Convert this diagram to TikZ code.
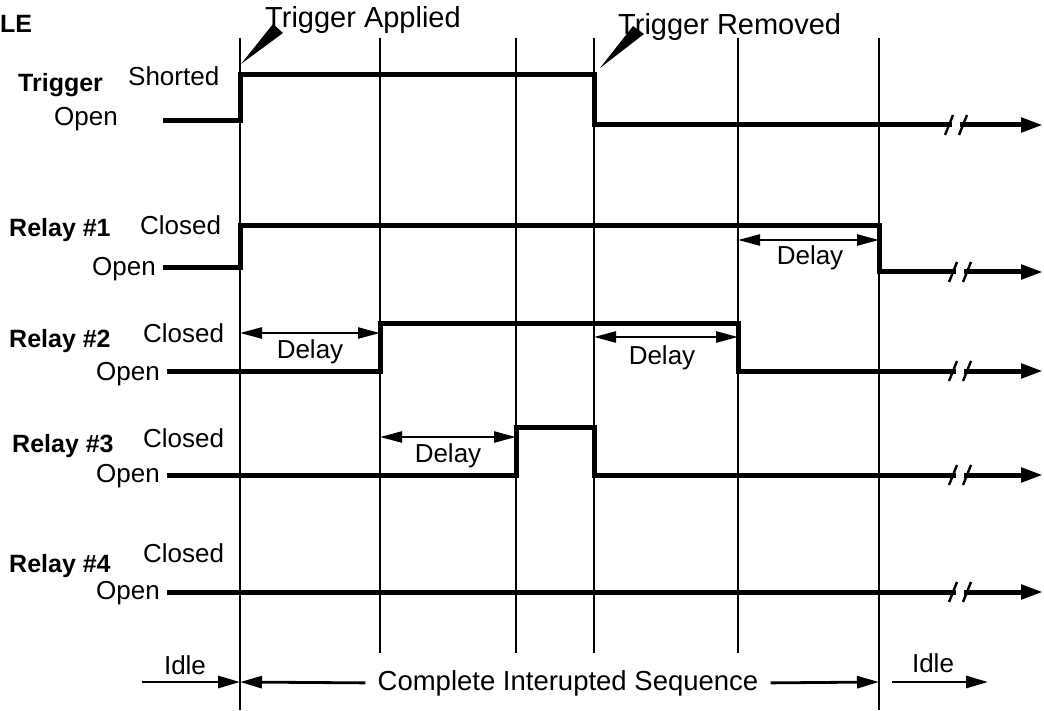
\documentclass[tikz,border=0pt]{standalone}
\usepackage{fontspec}
\setmainfont{Liberation Sans}
\usetikzlibrary{arrows.meta, positioning}

\begin{document}
\begin{tikzpicture}[x=1pt, y=-1pt, font=\fontsize{26}{30}\selectfont]
% Define styles
\tikzstyle{wave} = [line width=5pt, line join=miter, -{Triangle[length=22pt, width=14pt]}]
\tikzstyle{grid} = [line width=2pt]
\tikzstyle{dim} = [line width=2.4pt, {Triangle[length=22pt, width=11pt]}-{Triangle[length=22pt, width=11pt]}]
\tikzstyle{fwd} = [line width=2.8pt, -{Triangle[length=22pt, width=12pt]}]
\tikzstyle{signame} = [font=\fontsize{25}{30}\selectfont\bfseries, anchor=base west, inner sep=0pt]
\tikzstyle{level} = [anchor=base west, inner sep=0pt]
\tikzstyle{levelr} = [anchor=base east, inner sep=0pt]
\tikzstyle{txt} = [anchor=base, inner sep=0pt]
\tikzstyle{callout} = [font=\fontsize{29}{32}\selectfont, anchor=base west, inner sep=0pt]
\tikzstyle{cut} = [line width=2.4pt]

\useasboundingbox (0,0) rectangle (1044,711);

% Time marks
\foreach \n/\x/\y in {v1/240/710, v2/380/653, v3/516/653, v4/594/653, v5/738/653, v6/879/710} {
  \coordinate (\n) at (\x,38);
  \coordinate (\n b) at (\x,\y);
  \draw[grid] (\n) -- (\n b);
}

% Title and callouts
\node[signame] (title) at (0,33) {LE};
\node[callout] (applied) at (265,28) {Trigger Applied};
\node[callout] (removed) at (618,35) {Trigger Removed};
\fill (241,64) -- (273,24) -- (283,33) -- cycle;
\fill (600,68) -- (633,26) -- (644,34) -- cycle;

% Signal names and levels
\node[signame] (trig) at (18,92) {Trigger};
\node[level] (trigS) at (128,86) {Shorted};
\node[levelr] (trigO) at (118,126) {Open};

\node[signame] (r1) at (9,237) {Relay \#1};
\node[level] (r1C) at (140,235) {Closed};
\node[levelr] (r1O) at (156,276) {Open};

\node[signame] (r2) at (9,347) {Relay \#2};
\node[level] (r2C) at (143,342) {Closed};
\node[levelr] (r2O) at (160,380) {Open};

\node[signame] (r3) at (12,452) {Relay \#3};
\node[level] (r3C) at (143,447) {Closed};
\node[levelr] (r3O) at (160,482) {Open};

\node[signame] (r4) at (9,572) {Relay \#4};
\node[level] (r4C) at (143,562) {Closed};
\node[levelr] (r4O) at (160,599) {Open};

% Waveforms
\draw[wave] (163,121) -- (240,121) -- (240,75) -- (594,75) -- (594,125) -- (1043,125);
\draw[wave] (163,268) -- (240,268) -- (240,226) -- (879,226) -- (879,272) -- (1043,272);
\draw[wave] (167,371) -- (380,371) -- (380,323) -- (738,323) -- (738,371) -- (1043,371);
\draw[wave] (167,475) -- (516,475) -- (516,427) -- (594,427) -- (594,475) -- (1043,475);
\draw[wave] (167,592) -- (1043,592);

% Breaks
\foreach \x/\y in {956/125, 960/272, 960/371, 960/475, 960/592} {
  \fill[white] (\x-4,\y-5) rectangle (\x+4,\y+5);
  \draw[cut] (\x-11,\y+10) -- (\x-3,\y-10);
  \draw[cut] (\x+3,\y+10) -- (\x+11,\y-10);
}

% Delays
\draw[dim] (v5 |- 0,240) -- (v6 |- 0,240);
\node[txt] (d1) at (810,265) {Delay};
\draw[dim] (v1 |- 0,333) -- (v2 |- 0,333);
\node[txt] (d2) at (310,358) {Delay};
\draw[dim] (v4 |- 0,337) -- (v5 |- 0,337);
\node[txt] (d3) at (662,364) {Delay};
\draw[dim] (v2 |- 0,437) -- (v3 |- 0,437);
\node[txt] (d4) at (448,462) {Delay};

% Sequence
\coordinate (idleA) at (142,682);
\coordinate (idleB) at (892,682);
\node[txt] (idleL) at (185,674) {Idle};
\node[txt] (idleR) at (933,672) {Idle};
\node[txt, font=\fontsize{27.5}{30}\selectfont] (seq) at (568,690) {Complete Interupted Sequence};
\draw[fwd] (idleA) -- (v1 |- idleA);
\draw[fwd] ([xshift=-12pt]seq.west) -- (v1 |- idleA);
\draw[fwd] ([xshift=12pt]seq.east) -- (v6 |- idleA);
\draw[fwd] (idleB) -- (988,682);
\end{tikzpicture}
\end{document}
